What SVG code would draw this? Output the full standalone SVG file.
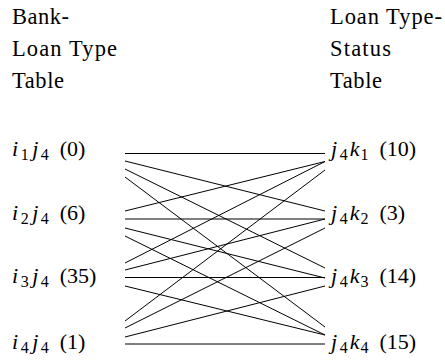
<svg xmlns="http://www.w3.org/2000/svg" width="445" height="362" viewBox="0 0 445 362">
<rect width="445" height="362" fill="#fff"/>
<g id="header-left">
<text x="12" y="24" font-family="Liberation Serif" font-size="22.5" textLength="57" lengthAdjust="spacing">Bank-</text>
<text x="12" y="56" font-family="Liberation Serif" font-size="22.5" textLength="105" lengthAdjust="spacing">Loan Type</text>
<text x="12" y="88" font-family="Liberation Serif" font-size="22.5" textLength="52" lengthAdjust="spacing">Table</text>
</g>
<g id="header-right">
<text x="330" y="24" font-family="Liberation Serif" font-size="22.5" textLength="112" lengthAdjust="spacing">Loan Type-</text>
<text x="330" y="56" font-family="Liberation Serif" font-size="22.5" textLength="61" lengthAdjust="spacing">Status</text>
<text x="330" y="88" font-family="Liberation Serif" font-size="22.5" textLength="52" lengthAdjust="spacing">Table</text>
</g>
<g id="edges" stroke="#000" stroke-width="1">
<line x1="125" y1="153.5" x2="325" y2="153.5"/>
<line x1="125" y1="161" x2="325" y2="211"/>
<line x1="125" y1="169" x2="325" y2="268"/>
<line x1="125" y1="177" x2="325" y2="327"/>
<line x1="125" y1="211" x2="325" y2="161.5"/>
<line x1="125" y1="219" x2="325" y2="219"/>
<line x1="125" y1="228" x2="325" y2="278"/>
<line x1="125" y1="236" x2="325" y2="335"/>
<line x1="125" y1="263" x2="325" y2="161.5"/>
<line x1="125" y1="270" x2="325" y2="219"/>
<line x1="125" y1="277.5" x2="325" y2="277.5"/>
<line x1="125" y1="286" x2="325" y2="335"/>
<line x1="125" y1="321" x2="325" y2="170"/>
<line x1="125" y1="328" x2="325" y2="228"/>
<line x1="125" y1="337" x2="325" y2="286"/>
<line x1="125" y1="344" x2="325" y2="344"/>
</g>
<g id="i1j4"><text x="12" y="156" font-family="Liberation Serif" font-size="22"><tspan font-style="italic">i</tspan><tspan font-size="16" dx="2.5" dy="3.5">1</tspan><tspan font-style="italic" dx="3.5" dy="-3.5">j</tspan><tspan font-size="16" dx="2.5" dy="3.5">4</tspan><tspan dx="11" dy="-3.5">(0)</tspan></text></g>
<g id="i2j4"><text x="12" y="220" font-family="Liberation Serif" font-size="22"><tspan font-style="italic">i</tspan><tspan font-size="16" dx="2.5" dy="3.5">2</tspan><tspan font-style="italic" dx="3.5" dy="-3.5">j</tspan><tspan font-size="16" dx="2.5" dy="3.5">4</tspan><tspan dx="11" dy="-3.5">(6)</tspan></text></g>
<g id="i3j4"><text x="12" y="283" font-family="Liberation Serif" font-size="22"><tspan font-style="italic">i</tspan><tspan font-size="16" dx="2.5" dy="3.5">3</tspan><tspan font-style="italic" dx="3.5" dy="-3.5">j</tspan><tspan font-size="16" dx="2.5" dy="3.5">4</tspan><tspan dx="11" dy="-3.5">(35)</tspan></text></g>
<g id="i4j4"><text x="12" y="349" font-family="Liberation Serif" font-size="22"><tspan font-style="italic">i</tspan><tspan font-size="16" dx="2.5" dy="3.5">4</tspan><tspan font-style="italic" dx="3.5" dy="-3.5">j</tspan><tspan font-size="16" dx="2.5" dy="3.5">4</tspan><tspan dx="11" dy="-3.5">(1)</tspan></text></g>
<g id="j4k1"><text x="331" y="156" font-family="Liberation Serif" font-size="22"><tspan font-style="italic">j</tspan><tspan font-size="16" dx="2.5" dy="3.5">4</tspan><tspan font-style="italic" dx="2" dy="-3.5">k</tspan><tspan font-size="16" dx="1" dy="3.5">1</tspan><tspan dx="11" dy="-3.5">(10)</tspan></text></g>
<g id="j4k2"><text x="331" y="220" font-family="Liberation Serif" font-size="22"><tspan font-style="italic">j</tspan><tspan font-size="16" dx="2.5" dy="3.5">4</tspan><tspan font-style="italic" dx="2" dy="-3.5">k</tspan><tspan font-size="16" dx="1" dy="3.5">2</tspan><tspan dx="11" dy="-3.5">(3)</tspan></text></g>
<g id="j4k3"><text x="331" y="283" font-family="Liberation Serif" font-size="22"><tspan font-style="italic">j</tspan><tspan font-size="16" dx="2.5" dy="3.5">4</tspan><tspan font-style="italic" dx="2" dy="-3.5">k</tspan><tspan font-size="16" dx="1" dy="3.5">3</tspan><tspan dx="11" dy="-3.5">(14)</tspan></text></g>
<g id="j4k4"><text x="331" y="349" font-family="Liberation Serif" font-size="22"><tspan font-style="italic">j</tspan><tspan font-size="16" dx="2.5" dy="3.5">4</tspan><tspan font-style="italic" dx="2" dy="-3.5">k</tspan><tspan font-size="16" dx="1" dy="3.5">4</tspan><tspan dx="11" dy="-3.5">(15)</tspan></text></g>
</svg>
